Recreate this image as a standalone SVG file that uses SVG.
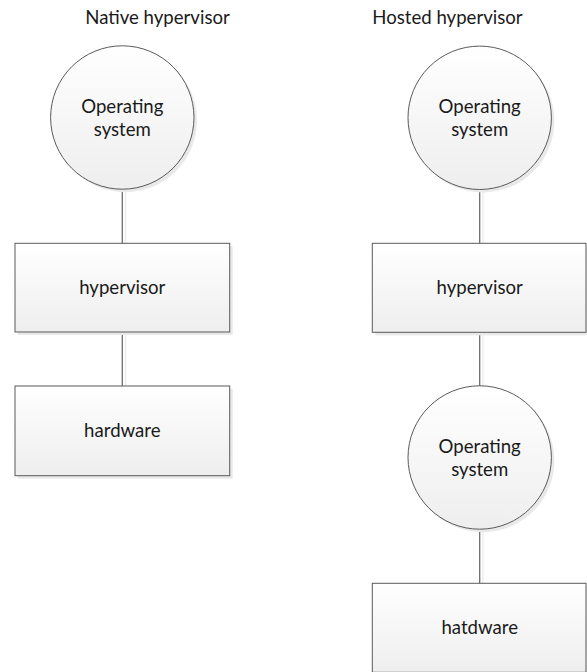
<svg xmlns="http://www.w3.org/2000/svg" width="587" height="672" viewBox="0 0 587 672">
<defs>
<linearGradient id="fill" x1="0" y1="0" x2="0" y2="1">
<stop offset="0" stop-color="#ffffff"/>
<stop offset="1" stop-color="#eeeeee"/>
</linearGradient>
<style>
.shape{fill:url(#fill);stroke:#5a5a5a;stroke-width:1}
.shadow{fill:#e9e9e9;stroke:none}
.conn{stroke:#6e6e6e;stroke-width:1.3;fill:none}
.connsh{stroke:#ececec;stroke-width:1.3;fill:none}
text{font-family:Lato,"Open Sans","Liberation Sans",sans-serif;font-size:18.6px;fill:#1a1a1a;text-anchor:middle}
</style>
</defs>
<rect width="587" height="672" fill="#ffffff"/>
<text x="157.5" y="24">Native hypervisor</text>
<text x="447.5" y="24">Hosted hypervisor</text>
<g id="connectors">
<line class="connsh" x1="125.5" y1="190" x2="125.5" y2="243"/>
<line class="connsh" x1="125.5" y1="333" x2="125.5" y2="386"/>
<line class="connsh" x1="483" y1="191" x2="483" y2="243"/>
<line class="connsh" x1="483" y1="333" x2="483" y2="386"/>
<line class="connsh" x1="483" y1="530" x2="483" y2="583"/>
<line class="conn" x1="122.3" y1="189" x2="122.3" y2="243.3"/>
<line class="conn" x1="122.3" y1="332" x2="122.3" y2="386"/>
<line class="conn" x1="479.7" y1="190" x2="479.7" y2="243.3"/>
<line class="conn" x1="479.7" y1="332.3" x2="479.7" y2="386"/>
<line class="conn" x1="479.7" y1="529" x2="479.7" y2="583.3"/>
</g>
<g id="native-os">
<circle class="shadow" cx="125.3" cy="120.5" r="71.7"/>
<circle class="shape" cx="122.3" cy="117.5" r="71.7"/>
<text x="122.3" y="112.5">Operating</text>
<text x="122.3" y="136">system</text>
</g>
<g id="native-hypervisor">
<rect class="shadow" x="18" y="246.3" width="214.7" height="88.7"/>
<rect class="shape" x="15" y="243.3" width="214.7" height="88.7"/>
<text x="122.3" y="294">hypervisor</text>
</g>
<g id="native-hardware">
<rect class="shadow" x="18" y="389" width="214.7" height="89.7"/>
<rect class="shape" x="15" y="386" width="214.7" height="89.7"/>
<text x="122.3" y="437.3">hardware</text>
</g>
<g id="hosted-os-top">
<circle class="shadow" cx="482.7" cy="120.8" r="71.7"/>
<circle class="shape" cx="479.7" cy="117.8" r="71.7"/>
<text x="479.7" y="113">Operating</text>
<text x="479.7" y="136">system</text>
</g>
<g id="hosted-hypervisor">
<rect class="shadow" x="375.3" y="246.3" width="214.7" height="89"/>
<rect class="shape" x="372.3" y="243.3" width="213.7" height="89"/>
<text x="479.7" y="293.5">hypervisor</text>
</g>
<g id="hosted-os-bottom">
<circle class="shadow" cx="482.7" cy="460.5" r="71.7"/>
<circle class="shape" cx="479.7" cy="457.5" r="71.7"/>
<text x="479.7" y="453.3">Operating</text>
<text x="479.7" y="476">system</text>
</g>
<g id="hosted-hatdware">
<rect class="shadow" x="375.3" y="586.3" width="214.7" height="89"/>
<rect class="shape" x="372.3" y="583.3" width="213.7" height="89"/>
<text x="479.7" y="634">hatdware</text>
</g>
</svg>
